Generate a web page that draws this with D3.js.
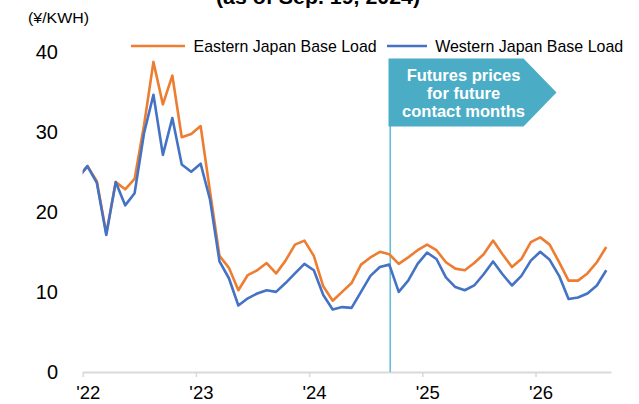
<!DOCTYPE html>
<html>
<head>
<meta charset="utf-8">
<script src="https://cdn.jsdelivr.net/npm/d3@7"></script>
<style>
  html, body { margin: 0; padding: 0; background: #fff; }
  svg { display: block; font-family: "Liberation Sans", Arial, sans-serif; }
</style>
</head>
<body>
<svg id="chart" width="639" height="404"></svg>
<script>
// ---- data ----
const months = [
  "2021-12",
  "2022-01","2022-02","2022-03","2022-04","2022-05","2022-06","2022-07","2022-08","2022-09","2022-10","2022-11","2022-12",
  "2023-01","2023-02","2023-03","2023-04","2023-05","2023-06","2023-07","2023-08","2023-09","2023-10","2023-11","2023-12",
  "2024-01","2024-02","2024-03","2024-04","2024-05","2024-06","2024-07","2024-08","2024-09","2024-10","2024-11","2024-12",
  "2025-01","2025-02","2025-03","2025-04","2025-05","2025-06","2025-07","2025-08","2025-09","2025-10","2025-11","2025-12",
  "2026-01","2026-02","2026-03","2026-04","2026-05","2026-06","2026-07","2026-08"
];
const easternBaseLoad = [
  24.2,
  25.7, 23.8, 17.3, 23.7, 22.8, 24.1, 30.8, 38.7, 33.4, 37.0, 29.3, 29.7,
  30.7, 22.5, 14.5, 13.0, 10.2, 12.1, 12.7, 13.6, 12.3, 13.9, 15.9, 16.4,
  14.5, 10.7, 8.9, 10.0, 11.1, 13.4, 14.3, 15.0, 14.7, 13.5, 14.3, 15.2,
  15.9, 15.2, 13.7, 12.9, 12.7, 13.6, 14.7, 16.4, 14.7, 13.1, 14.1, 16.2,
  16.8, 15.9, 13.7, 11.4, 11.4, 12.3, 13.7, 15.6
];
const westernBaseLoad = [
  24.2,
  25.7, 23.6, 17.1, 23.7, 20.8, 22.3, 29.8, 34.6, 27.1, 31.7, 25.9, 25.0,
  26.0, 21.5, 13.8, 11.7, 8.3, 9.2, 9.8, 10.2, 10.0, 11.1, 12.3, 13.5,
  12.7, 9.6, 7.8, 8.1, 8.0, 10.0, 12.0, 13.1, 13.4, 10.0, 11.4, 13.5,
  14.9, 14.1, 11.8, 10.6, 10.2, 10.8, 12.2, 13.8, 12.2, 10.8, 12.0, 13.9,
  15.0, 14.0, 12.0, 9.1, 9.3, 9.8, 10.8, 12.7
];
const seriesNames = ["Eastern Japan Base Load", "Western Japan Base Load"];
const seriesColors = ["#ED7D31", "#4472C4"];
const yTicks = [0, 10, 20, 30, 40];
const xTickYears = [2022, 2023, 2024, 2025, 2026];
const xTickLabels = ["'22", "'23", "'24", "'25", "'26"];
const asOfDate = "2024-09-19";
const titleText = "(as of Sep. 19, 2024)";
const unitText = "(¥/KWH)";
const calloutLines = ["Futures prices", "for future", "contact months"];

// ---- helpers ----
const baseYear = 2022;
function monthIndex(s) { const [y, m] = s.split("-").map(Number); return (y - baseYear) * 12 + (m - 1); }
function dateIndex(s) { const [y, m, d] = s.split("-").map(Number); return (y - baseYear) * 12 + (m - 1) + (d - 1) / 30; }

const svg = d3.select("#chart");
const x = d3.scaleLinear().domain([0, 56]).range([82.7, 611]);
const y = d3.scaleLinear().domain([0, 40]).range([372, 51.5]);

// title (cropped at top)
svg.append("text").attr("x", 318).attr("y", 3.5).attr("text-anchor", "middle")
  .attr("font-size", 21).attr("font-weight", "bold").attr("fill", "#000")
  .attr("textLength", 204).attr("lengthAdjust", "spacingAndGlyphs").text(titleText);

// unit
svg.append("text").attr("x", 28).attr("y", 23).attr("font-size", 15).attr("fill", "#000")
  .attr("textLength", 61).attr("lengthAdjust", "spacingAndGlyphs").text(unitText);

// y labels
svg.append("g").selectAll("text").data(yTicks).join("text")
  .attr("x", 58).attr("y", d => y(d) + 7).attr("text-anchor", "end")
  .attr("font-size", 20).attr("fill", "#000").text(d => d);

// x axis
const xAxis = d3.axisBottom(x)
  .tickValues(xTickYears.map(yr => (yr - baseYear) * 12))
  .tickFormat((d, i) => xTickLabels[i])
  .tickSize(5).tickSizeOuter(0);
const gx = svg.append("g").attr("transform", `translate(0,${y(0)})`).call(xAxis);
gx.select(".domain").attr("stroke", "#D9D9D9").attr("stroke-width", 2);
gx.selectAll(".tick line").attr("stroke", "#D9D9D9").attr("stroke-width", 1.5);
gx.selectAll(".tick text").attr("font-size", 18.5).attr("fill", "#000")
  .attr("font-family", "'Liberation Sans', Arial, sans-serif")
  .attr("dx", 5).attr("dy", 0).attr("y", 27);

// clip for lines
svg.append("clipPath").attr("id", "plotclip").append("rect")
  .attr("x", x(0)).attr("y", 0).attr("width", x(56) - x(0)).attr("height", 404);

// vertical as-of line
const asX = x(dateIndex(asOfDate));
svg.append("line").attr("x1", asX).attr("x2", asX).attr("y1", 120).attr("y2", y(0))
  .attr("stroke", "#69BDD6").attr("stroke-width", 1.6);

// lines
const line = d3.line().x((d, i) => x(monthIndex(months[i]) + 0.5)).y(d => y(d));
[easternBaseLoad, westernBaseLoad].forEach((vals, si) => {
  svg.append("path").attr("clip-path", "url(#plotclip)").datum(vals)
    .attr("d", line).attr("fill", "none").attr("stroke", seriesColors[si])
    .attr("stroke-width", 2.6).attr("stroke-linejoin", "round");
});

// callout arrow shape
const cx0 = 388.5, cx1 = 523.5, cx2 = 556.5, cy0 = 58.5, cy1 = 126.5;
svg.append("path")
  .attr("d", `M${cx0},${cy0} L${cx1},${cy0} L${cx2},${(cy0 + cy1) / 2} L${cx1},${cy1} L${cx0},${cy1} Z`)
  .attr("fill", "#4BACC6");
svg.append("g").selectAll("text").data(calloutLines).join("text")
  .attr("x", 463.5).attr("y", (d, i) => 80.5 + i * 18.3).attr("text-anchor", "middle")
  .attr("font-size", 16.5).attr("font-weight", "bold").attr("fill", "#fff").text(d => d);

// legend
const legend = [
  { x1: 131, x2: 185, tx: 193.6, tl: 183 },
  { x1: 387, x2: 427, tx: 435.2, tl: 188 }
];
legend.forEach((l, i) => {
  svg.append("line").attr("x1", l.x1).attr("x2", l.x2).attr("y1", 46).attr("y2", 46)
    .attr("stroke", seriesColors[i]).attr("stroke-width", 2.6);
  svg.append("text").attr("x", l.tx).attr("y", 52).attr("font-size", 17).attr("fill", "#000")
    .attr("textLength", l.tl).attr("lengthAdjust", "spacingAndGlyphs").text(seriesNames[i]);
});
</script>
</body>
</html>
